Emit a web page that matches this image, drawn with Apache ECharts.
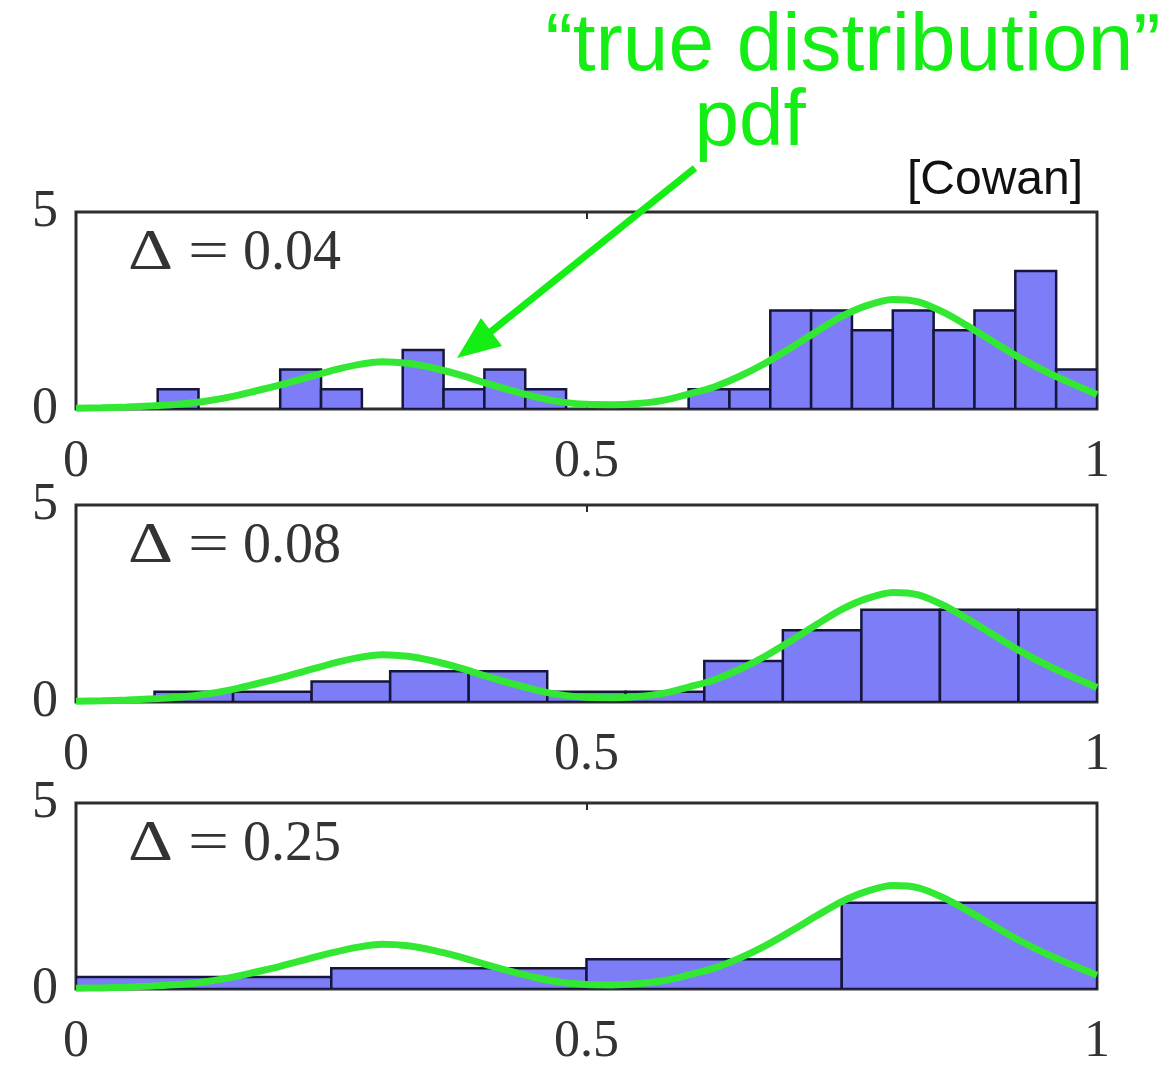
<!DOCTYPE html>
<html>
<head>
<meta charset="utf-8">
<script src="https://cdn.jsdelivr.net/npm/echarts@6/dist/echarts.min.js"></script>
<style>
html,body{margin:0;padding:0;background:#fff;}
#chart{width:1170px;height:1068px;}
</style>
</head>
<body>
<div id="chart"></div>
<script>
// ---- data ----
const xTicks = [0, 0.5, 1];
const yTicks = [0, 5];
const panelLabels = ['0.04', '0.08', '0.25'];
// histogram densities, equal-width bins spanning [0,1]
const heights004 = [0, 0, 0.5, 0, 0, 1, 0.5, 0, 1.5, 0.5, 1, 0.5, 0, 0, 0, 0.5, 0.5, 2.5, 2.5, 2, 2.5, 2, 2.5, 3.5, 1];
const heights008 = [0, 0.26, 0.26, 0.52, 0.78, 0.78, 0.26, 0.26, 1.04, 1.82, 2.34, 2.34, 2.34];
const heights025 = [0.32, 0.56, 0.8, 2.32];
// "true distribution" pdf
const pdfX = [0, 0.025, 0.05, 0.075, 0.1, 0.125, 0.15, 0.175, 0.2, 0.225, 0.25, 0.275, 0.3, 0.325, 0.35, 0.375, 0.4, 0.425, 0.45, 0.475,
              0.5, 0.525, 0.55, 0.575, 0.6, 0.625, 0.65, 0.675, 0.7, 0.725, 0.75, 0.775, 0.8, 0.825, 0.85, 0.875, 0.9, 0.925, 0.95, 0.975, 1.0];
const pdfY = [0.02, 0.03, 0.05, 0.08, 0.12, 0.19, 0.3, 0.45, 0.61, 0.79, 0.97, 1.12, 1.2, 1.16, 1.04, 0.87, 0.67, 0.48, 0.31, 0.18,
              0.12, 0.11, 0.14, 0.22, 0.38, 0.56, 0.83, 1.16, 1.55, 1.96, 2.35, 2.63, 2.78, 2.72, 2.45, 2.08, 1.68, 1.29, 0.95, 0.65, 0.37];

// ---- build ----
function binsOf(h) {
  const n = h.length;
  return h.map((v, i) => [i / n, (i + 1) / n, v]);
}
const hists = [binsOf(heights004), binsOf(heights008), binsOf(heights025)];
const pdfData = pdfX.map((x, i) => [x, pdfY[i]]);

const gridTops = [212, 505, 803];
const GL = 76, GW = 1021, GH = 197;
const serif = "'Liberation Serif', 'DejaVu Serif', serif";
const sans = "'Liberation Sans', Arial, sans-serif";
const txtCol = '#333';
const green = '#33e833';
const textGreen = '#14ee14';
const barFill = '#7d7df7';
const barEdge = '#16163c';

const grids = [], xAxes = [], yAxes = [], series = [], graphics = [];
gridTops.forEach((top, k) => {
  grids.push({left: GL, top: top, width: GW, height: GH, show: true,
    borderColor: '#2e2e2e', borderWidth: 3, backgroundColor: '#fff', containLabel: false});
  xAxes.push({type: 'value', gridIndex: k, min: 0, max: 1, interval: 0.5, position: 'bottom',
    axisLine: {show: false}, splitLine: {show: false},
    axisTick: {show: true, inside: true, length: 7, lineStyle: {color: '#2a2a2a', width: 2}},
    axisLabel: {show: true, margin: 27, color: txtCol, fontFamily: serif, fontSize: 52,
      formatter: v => (xTicks.indexOf(v) >= 0 ? String(v) : '')}});
  xAxes.push({type: 'value', gridIndex: k, min: 0, max: 1, interval: 0.5, position: 'top',
    axisLine: {show: false}, splitLine: {show: false}, axisLabel: {show: false},
    axisTick: {show: true, inside: true, length: 7, lineStyle: {color: '#2a2a2a', width: 2}}});
  yAxes.push({type: 'value', gridIndex: k, min: 0, max: 5, interval: 5,
    axisLine: {show: false}, splitLine: {show: false}, axisTick: {show: false},
    axisLabel: {show: true, margin: 18, color: txtCol, fontFamily: serif, fontSize: 52,
      formatter: v => (yTicks.indexOf(v) >= 0 ? String(v) : '')}});
  series.push({
    type: 'custom', xAxisIndex: 2 * k, yAxisIndex: k, data: hists[k], clip: true, z: 2,
    renderItem: function (params, api) {
      const x0 = api.value(0), x1 = api.value(1), h = api.value(2);
      if (!(h > 0)) return null;
      const p0 = api.coord([x0, h]);
      const p1 = api.coord([x1, 0]);
      return {type: 'rect',
        shape: {x: p0[0], y: p0[1], width: p1[0] - p0[0], height: p1[1] - p0[1]},
        style: {fill: barFill, stroke: barEdge, lineWidth: 2.5}};
    }
  });
  series.push({
    type: 'line', xAxisIndex: 2 * k, yAxisIndex: k, data: pdfData, smooth: 0.3,
    showSymbol: false, symbol: 'none', z: 3,
    lineStyle: {color: green, width: 7}
  });
  // Δ label
  const ly = top + 42;
  graphics.push({type: 'text', left: 128, top: ly - 28, scaleX: 1.25, z: 10,
    style: {text: 'Δ', font: '56px ' + serif, fill: txtCol}});
  graphics.push({type: 'text', left: 188, top: ly - 28, scaleX: 1.3, z: 10,
    style: {text: '=', font: '56px ' + serif, fill: txtCol}});
  graphics.push({type: 'text', left: 243, top: ly - 28, z: 10,
    style: {text: panelLabels[k], font: '56px ' + serif, fill: txtCol}});
});

// annotation text + arrow
graphics.push({type: 'text', x: 853, y: 47, z: 20,
  style: {text: '\u201Ctrue distribution\u201D', font: '82px ' + sans, fill: textGreen,
    textAlign: 'center', textVerticalAlign: 'middle'}});
graphics.push({type: 'text', x: 750, y: 123, z: 20,
  style: {text: 'pdf', font: '80px ' + sans, fill: textGreen,
    textAlign: 'center', textVerticalAlign: 'middle'}});
graphics.push({type: 'text', x: 995, y: 181, z: 20,
  style: {text: '[Cowan]', font: '48px ' + sans, fill: '#111',
    textAlign: 'center', textVerticalAlign: 'middle'}});
graphics.push({type: 'line', z: 20,
  shape: {x1: 695, y1: 168, x2: 488, y2: 334},
  style: {stroke: textGreen, lineWidth: 7}});
graphics.push({type: 'polygon', z: 20,
  shape: {points: [[457, 358], [502, 346], [481, 318]]},
  style: {fill: textGreen}});

const chart = echarts.init(document.getElementById('chart'), null, {renderer: 'canvas'});
chart.setOption({
  animation: false,
  backgroundColor: '#fff',
  grid: grids,
  xAxis: xAxes,
  yAxis: yAxes,
  series: series,
  graphic: graphics
});
</script>
</body>
</html>
